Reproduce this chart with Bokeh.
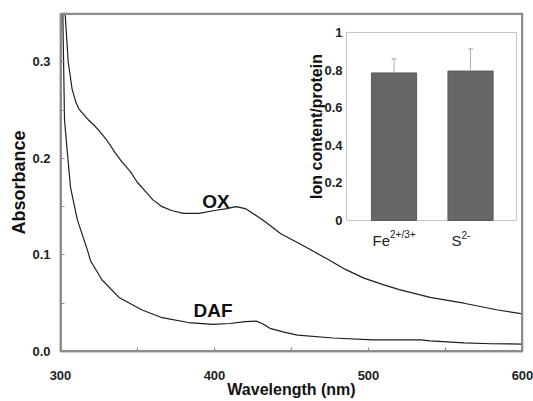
import math
from bokeh.plotting import figure
from bokeh.models import Range1d, FixedTicker, Label, NumeralTickFormatter
from bokeh.core.properties import value
from bokeh.embed import file_html
from bokeh.resources import INLINE

# ---------------- data ----------------
ox_wavelength = [303, 305, 307.5, 310, 312, 318, 322, 326, 330, 335, 340, 345, 350, 355, 360, 366,
                 372, 380, 390, 400, 408, 414, 420, 425, 434, 443, 456, 465, 473, 485, 497, 510,
                 520, 540, 562, 584, 600]
ox_absorbance = [0.350, 0.300, 0.272, 0.258, 0.251, 0.240, 0.234, 0.227, 0.219, 0.207, 0.196, 0.187,
                 0.175, 0.166, 0.157, 0.150, 0.146, 0.143, 0.143, 0.146, 0.148, 0.150, 0.148, 0.143,
                 0.133, 0.122, 0.111, 0.103, 0.096, 0.085, 0.076, 0.069, 0.064, 0.056, 0.050, 0.043,
                 0.039]

daf_wavelength = [301.5, 302.0, 302.6, 304.5, 306.5, 311, 317.5, 319.5, 327, 338, 353, 366, 383, 399,
                  410, 420, 427, 431, 436, 445, 454, 477, 503, 534, 540, 562, 580, 600]
daf_absorbance = [0.350, 0.300, 0.240, 0.205, 0.170, 0.136, 0.105, 0.094, 0.074, 0.056, 0.043, 0.035,
                  0.030, 0.028, 0.029, 0.031, 0.0315, 0.029, 0.024, 0.020, 0.017, 0.014, 0.012, 0.012,
                  0.011, 0.009, 0.008, 0.0077]

series_names = ["OX", "DAF"]
x_ticks = [300, 400, 500, 600]
x_minor_ticks = [350, 450, 550]
y_ticks = [0.0, 0.1, 0.2, 0.3]
y_minor_ticks = [0.05, 0.15, 0.25]

ion_categories = ["Fe", "S"]
ion_superscripts = ["2+/3+", "2-"]
ion_content = [0.785, 0.795]
ion_error = [0.075, 0.118]
inset_y_ticks = [0, 0.2, 0.4, 0.6, 0.8, 1]

# ---------------- style / layout ----------------
FONT = "Liberation Sans"
AXIS_COLOR = "#8c8c8c"
LINE_COLOR = "#1e1e1e"
W, H = 533, 401
BL, BR, BT, BB = 60, 11, 13, 50
FW, FH = W - BL - BR, H - BT - BB

# inset geometry (pixels from the main frame's top-left) and its own data ranges
IN_X_LO, IN_X_HI = 0.379, 2.601        # categories sit at 1 and 2
IN_Y_LO, IN_Y_HI = 0.0, 1.0
in_left_px, in_right_px = 286.0, 456.0
in_top_px, in_bottom_px = 19.0, 207.0
sx = (in_right_px - in_left_px) / (IN_X_HI - IN_X_LO)
sy = (in_bottom_px - in_top_px) / (IN_Y_HI - IN_Y_LO)
x0 = IN_X_LO - in_left_px / sx
y0 = IN_Y_LO - (FH - in_bottom_px) / sy
inset_x_range = Range1d(x0, x0 + FW / sx)
inset_y_range = Range1d(y0, y0 + FH / sy)

xr = Range1d(300, 600)
yr = Range1d(0, 0.35)
p = figure(width=W, height=H, x_range=xr, y_range=yr,
           min_border_left=BL, min_border_right=BR, min_border_top=BT, min_border_bottom=BB,
           output_backend="svg", toolbar_location=None)
p.extra_x_ranges = {"inset_x": inset_x_range}
p.extra_y_ranges = {"inset_y": inset_y_range}
p.grid.visible = False
p.outline_line_color = AXIS_COLOR
p.outline_line_width = 1.5
p.background_fill_color = "white"

p.line(ox_wavelength, ox_absorbance, line_color=LINE_COLOR, line_width=1.2)
p.line(daf_wavelength, daf_absorbance, line_color=LINE_COLOR, line_width=1.2)

# frame box (half of the stroke is clipped by the frame)
p.quad(left=[xr.start], right=[xr.end], bottom=[yr.start], top=[yr.end],
       fill_color=None, line_color=AXIS_COLOR, line_width=3)

for ax in (p.xaxis[0], p.yaxis[0]):
    ax.axis_line_color = AXIS_COLOR
    ax.axis_line_width = 1.5
    ax.major_tick_line_color = AXIS_COLOR
    ax.minor_tick_line_color = AXIS_COLOR
    ax.major_tick_line_width = 1.2
    ax.minor_tick_line_width = 1.2
    ax.major_tick_in = 4
    ax.major_tick_out = 0
    ax.minor_tick_in = 4
    ax.minor_tick_out = 0
    ax.major_label_text_font = FONT
    ax.major_label_text_font_style = "bold"
    ax.major_label_text_font_size = "13px"
    ax.major_label_text_color = "#222222"
    ax.axis_label_text_font = FONT
    ax.axis_label_text_font_style = "bold"
    ax.axis_label_text_color = "#111111"

p.xaxis.ticker = FixedTicker(ticks=x_ticks, minor_ticks=x_minor_ticks)
p.yaxis.ticker = FixedTicker(ticks=y_ticks, minor_ticks=y_minor_ticks)
p.yaxis.formatter = NumeralTickFormatter(format="0.0")
p.xaxis.axis_label = "Wavelength (nm)"
p.yaxis.axis_label = "Absorbance"
p.xaxis.axis_label_text_font_size = "16px"
p.yaxis.axis_label_text_font_size = "18px"
p.xaxis.major_label_standoff = 19
p.yaxis.major_label_standoff = 10
p.xaxis.axis_label_standoff = -2
p.yaxis.axis_label_standoff = 0

label_pos = {"OX": (401, 0.155), "DAF": (399, 0.042)}
for name in series_names:
    lx, ly = label_pos[name]
    p.add_layout(Label(x=lx, y=ly, text=name, text_align="center", text_baseline="middle",
                       text_font=FONT, text_font_style="bold", text_font_size="19px",
                       text_color="#111111"))

# ---------------- inset (drawn on its own ranges) ----------------
R = dict(x_range_name="inset_x", y_range_name="inset_y")
positions = [i + 1 for i in range(len(ion_categories))]
upper = [c + e for c, e in zip(ion_content, ion_error)]

p.quad(left=[IN_X_LO], right=[IN_X_HI], bottom=[IN_Y_LO], top=[IN_Y_HI],
       fill_color="white", line_color="#c4c4c4", line_width=1, **R)
p.vbar(x=positions, top=ion_content, width=0.59, bottom=0,
       fill_color="#666666", line_color="#5a5a5a", **R)
p.segment(x0=positions, y0=ion_content, x1=positions, y1=upper,
          line_color="#b0b0b0", line_width=1, **R)
p.scatter(x=positions, y=upper, marker="dash", size=5, line_color="#b0b0b0", line_width=1.2, **R)

p.text(x=[IN_X_LO] * len(inset_y_ticks), y=inset_y_ticks, text=[f"{t:g}" for t in inset_y_ticks],
       x_offset=-4, text_align="right", text_baseline="middle",
       text_font=value(FONT), text_font_style="bold", text_font_size="13px",
       text_color="#222222", **R)
p.text(x=[IN_X_LO], y=[(IN_Y_LO + IN_Y_HI) / 2], text=["Ion content/protein"], angle=math.pi / 2,
       x_offset=-30, text_align="center", text_baseline="middle",
       text_font=value(FONT), text_font_style="bold", text_font_size="16px",
       text_color="#111111", **R)
label_shift = [-4, -9]
p.text(x=positions, y=[IN_Y_LO] * len(positions), text=ion_categories, x_offset=label_shift, y_offset=20,
       text_align="right", text_baseline="alphabetic",
       text_font=value(FONT), text_font_size="15px", text_color="#222222", **R)
p.text(x=positions, y=[IN_Y_LO] * len(positions), text=ion_superscripts, x_offset=label_shift, y_offset=14,
       text_align="left", text_baseline="alphabetic",
       text_font=value(FONT), text_font_size="10px", text_color="#222222", **R)

open("out.html", "w").write(file_html(p, INLINE))
